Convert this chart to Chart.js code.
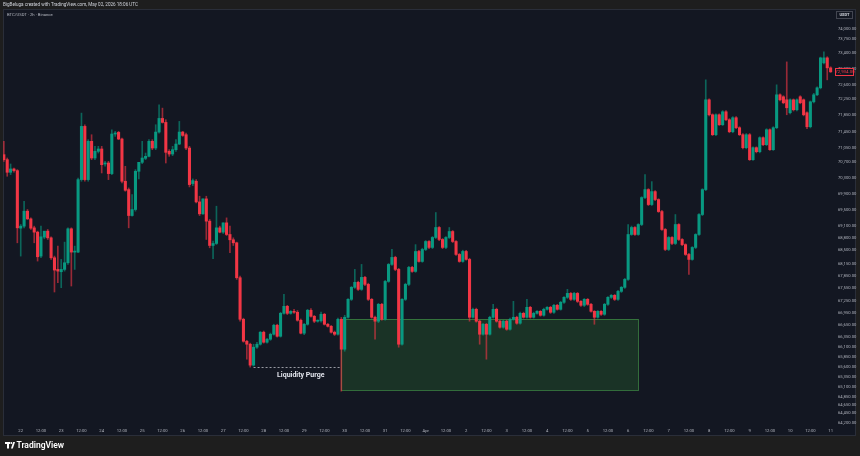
<!DOCTYPE html>
<html>
<head>
<meta charset="utf-8">
<style>
  html, body { margin: 0; padding: 0; background: #1e1e1e; }
  canvas { display: block; }
</style>
<script src="https://cdn.jsdelivr.net/npm/chart.js@4.4.1/dist/chart.umd.min.js"></script>
</head>
<body>
<canvas id="chart" width="860" height="456"></canvas>
<script>
// BTC/USDT 2h candles, Mar 21 14:00 -> Apr 11 00:00 (index = candle number)
const opens = [
  70875,70751,70437,70520,70478,69048,69098,69470,69279,69056,68949,68354,68825,68974,68808,68312,68023,67965,68023,68188,
  69032,68453,68453,70255,71578,70255,71206,70792,70958,71016,70644,70668,70404,71388,71429,71264,70214,70007,69362,69511,
  70462,70685,70784,70834,71206,71040,71437,71776,71677,70958,70891,70999,71139,71437,71371,71040,70156,70214,69701,69404,
  69776,69222,68618,68668,69056,68949,69180,68891,68759,68684,67816,66783,66237,66163,65643,66089,66163,66461,66213,66287,
  66411,66635,66361,66931,67105,66931,66981,66957,66759,66437,66659,67007,66857,66735,66745,66907,66659,66609,66461,66411,
  66783,66039,66833,67279,67577,67701,67527,67825,67651,67279,66833,66735,67155,66783,67725,68147,68321,68023,66163,67279,
  67651,68073,67973,68469,68221,68519,68717,68569,68817,69065,68767,68569,68817,68965,68717,68395,68221,68469,68271,66833,
  67031,66735,66411,66659,66411,66833,67031,66735,66585,66735,66535,66783,66833,66685,66931,66833,67081,66833,66931,66981,
  66883,67031,67081,66957,67131,67031,67205,67329,67427,67279,67427,67229,67131,67279,67155,66981,66833,66981,66907,67155,
  67329,67378,67279,67477,67577,67775,68891,69065,68891,69139,69809,70007,69635,69957,69759,69461,69015,68519,68817,68668,
  69139,68767,68639,68395,68271,68569,68891,69387,70007,72239,71867,71371,71867,71619,71941,71743,71445,71793,71545,71371,
  71049,71371,70751,71049,70949,71297,71123,71495,70999,71545,72363,72314,72239,71917,72239,71991,72314,72239,71917,71569,
  72189,72363,72537,73157,73281,73033
];
const highs = [
  71206,70792,70644,70544,70503,69139,69718,69511,69304,69098,68974,69098,68880,69015,68833,68354,68602,68271,68701,69056,
  69056,68602,70296,71908,71619,71247,71371,71082,71082,71082,70710,70710,71495,71454,71454,71288,70586,70048,69883,70503,
  70685,71206,70916,71247,71247,71619,72115,72032,71743,70999,71082,71247,71702,71454,71412,71082,70272,70255,69842,69776,
  69842,69263,68726,69594,69098,69180,69304,69098,68808,68701,67858,66810,66260,66190,66163,66210,66480,66490,66310,66440,
  66660,66660,66957,67403,67130,67000,67030,67000,66790,66680,67031,67050,66880,66770,66960,66930,66680,66630,66490,66810,
  66830,66883,67300,67600,68023,67730,68147,67850,67680,67300,66860,67180,67180,67750,68170,68519,68350,68050,67300,67680,
  68100,68100,68639,68500,68550,68740,68740,68840,69437,69090,68790,68840,69065,68990,68740,68420,68500,68500,68300,67060,
  67060,66760,66680,66680,66860,67155,67060,66760,66760,66760,66810,67229,66860,66960,66960,67279,67105,66960,67000,67000,
  67060,67100,67105,67155,67155,67230,67350,67527,67450,67450,67450,67250,67300,67300,67180,67000,67000,67000,67180,67350,
  67400,67400,67500,67600,67800,69139,69100,69090,69160,69830,70379,70030,70205,69980,69780,69490,69040,68840,68840,69387,
  69160,68790,68660,68420,68590,68910,69410,70030,72735,72260,71890,71890,71890,71970,71970,71770,71820,71820,71570,71400,
  71400,71400,71070,71070,71320,71320,71520,71520,71570,72611,72390,72340,73181,72260,72260,72260,72340,72260,71940,72210,
  72400,72560,73300,73429,73310,73060
];
const lows = [
  70710,70338,70379,70437,68684,68354,69056,69263,69015,68684,68230,68312,68783,68767,68271,67461,67692,67568,67981,68147,
  67610,68023,68436,70214,70214,70214,70751,70751,70916,70420,70586,70255,70379,71330,71247,70172,69966,69056,69346,69470,
  70272,70652,70751,70817,70999,70999,71412,71660,70668,70834,70850,70958,71123,71330,70999,70073,70106,69676,69362,69387,
  68767,68560,68288,68643,68932,68916,68866,68436,68618,67775,66735,66213,65791,65593,65620,66060,66140,66190,66190,66260,
  66390,66340,66340,66910,66900,66910,66930,66735,66420,66400,66635,66833,66700,66710,66710,66640,66590,66440,66380,66387,
  64997,65989,66810,67250,67550,67500,67500,67620,67250,66810,66287,66700,66760,66760,67700,68120,67990,66089,66140,67250,
  67620,67950,67950,68200,68200,68490,68540,68540,68790,68740,68540,68540,68790,68690,68370,68200,68200,68250,66735,66810,
  66710,66163,66390,65791,66390,66810,66710,66560,66560,66510,66510,66760,66660,66660,66810,66810,66810,66810,66910,66860,
  66860,67010,66930,66930,67010,67010,67180,67300,67250,67250,67200,67100,67100,67130,66960,66659,66810,66880,66880,67130,
  67300,67250,67250,67450,67550,67750,68870,68870,68870,69110,69780,69610,69610,69730,69440,68990,68490,68490,68640,68640,
  68740,68610,68370,67899,68250,68540,68870,69360,69980,71840,71350,71350,71600,71600,71720,71420,71420,71520,71350,71020,
  71020,70730,70730,70920,70920,71100,71100,70980,70980,71520,72210,72140,71867,71890,71960,71960,72140,71840,71520,71540,
  72160,72340,72510,73130,72735,72920
];
const closes = [
  70751,70437,70520,70478,69056,69098,69470,69279,69048,68949,68337,68833,68974,68808,68312,68006,67981,68023,68188,69032,
  68453,68478,70255,71578,70255,71206,70792,70958,71016,70627,70668,70404,71388,71412,71264,70214,69990,69362,69511,70462,
  70685,70792,70834,71206,71040,71437,71776,71677,70933,70891,70999,71139,71437,71354,71040,70131,70230,69701,69404,69776,
  69222,68618,68668,69056,68949,69180,68891,68759,68684,67816,66783,66237,66163,65643,66089,66163,66461,66213,66287,66411,
  66635,66361,66931,67105,66931,66981,66957,66759,66437,66659,67007,66857,66735,66745,66907,66659,66609,66461,66411,66783,
  66039,66833,67279,67577,67701,67527,67825,67651,67279,66833,66735,67155,66783,67725,68147,68321,68023,66163,67279,67651,
  68073,67973,68469,68221,68519,68717,68569,68817,69065,68767,68569,68817,68965,68717,68395,68221,68469,68271,66833,67031,
  66735,66411,66659,66411,66833,67031,66735,66585,66735,66535,66783,66833,66685,66931,66833,67081,66833,66931,66981,66883,
  67031,67081,66957,67131,67031,67205,67329,67427,67279,67427,67229,67131,67279,67155,66981,66833,66981,66907,67155,67329,
  67378,67279,67477,67577,67775,68891,69065,68891,69139,69809,70007,69635,69957,69759,69461,69015,68519,68817,68668,69139,
  68767,68639,68395,68271,68569,68891,69387,70007,72239,71867,71371,71867,71619,71941,71743,71445,71793,71545,71371,71049,
  71371,70751,71049,70949,71297,71123,71495,70999,71545,72363,72239,72165,72041,72239,71991,72239,72165,71867,71569,72189,
  72363,72537,73281,73281,73033,72934
];

// time axis: day labels at 00:00, "12:00" between them
const dayLabels = ['22','23','24','25','26','27','28','29','30','31','Apr','2','3','4','5','6','7','8','9','10','11'];
const firstDayIndex = 5;      // candle index of Mar 22 00:00
const candlesPerDay = 12;     // 2h candles

// price axis labels
const priceTicks = [
  74000,73750,73400,73000,72600,72250,71850,71450,71050,70700,70300,69900,69500,69100,
  68800,68500,68150,67850,67550,67250,66950,66650,66350,66100,65850,65600,65350,65100,
  64850,64650,64450,64200
];

// annotations
const zoneStart = 100, zoneEnd = 188;
const zoneTop = 66783, zoneBottom = 65020;
const purgeLevel = 65593, purgeFrom = 74, purgeTo = 100;
const purgeText = 'Liquidity Purge';

const UP = '#089981', DOWN = '#f23645';
const PANEL = '#131722';

const timeTicks = [];
const timeLabel = {};
dayLabels.forEach((lbl, d) => {
  const v = firstDayIndex + d * candlesPerDay;
  timeTicks.push(v); timeLabel[v] = lbl;
  if (d < dayLabels.length - 1) {
    const h = v + candlesPerDay / 2;
    timeTicks.push(h); timeLabel[h] = '12:00';
  }
});

const isUp = i => closes[i] >= opens[i];
const wickData = opens.map((o, i) => ({ x: i, y: [lows[i], highs[i]] }));
const bodyData = opens.map((o, i) => ({ x: i, y: [o, closes[i]] }));
const fmt = v => v.toLocaleString('en-US', { minimumFractionDigits: 2, maximumFractionDigits: 2 });

const tvFrame = {
  id: 'tvFrame',
  beforeDraw(chart) {
    const c = chart.ctx;
    c.save();
    c.fillStyle = '#1e1e1e';
    c.fillRect(0, 0, chart.width, chart.height);
    c.fillStyle = PANEL;
    c.fillRect(3, 9, 853, 427);
    c.strokeStyle = '#2a2e39';
    c.lineWidth = 1;
    c.strokeRect(3.5, 9.5, 852, 426);
    c.fillStyle = '#d1d4dc';
    c.font = '4.6px Roboto';
    c.textBaseline = 'middle';
    c.fillText('BigBeluga created with TradingView.com, May 02, 2026 18:06 UTC', 3, 4.8);
    c.restore();
  },
  beforeDatasetsDraw(chart) {
    const c = chart.ctx, xs = chart.scales.x, ys = chart.scales.y;
    c.save();
    // green zone
    const x0 = xs.getPixelForValue(zoneStart), x1 = xs.getPixelForValue(zoneEnd);
    const y0 = ys.getPixelForValue(zoneTop), y1 = ys.getPixelForValue(zoneBottom);
    c.fillStyle = 'rgba(46,125,50,0.28)';
    c.fillRect(x0, y0, x1 - x0, y1 - y0);
    c.strokeStyle = 'rgba(76,175,80,0.55)';
    c.lineWidth = 1;
    c.strokeRect(Math.round(x0) + 0.5, Math.round(y0) + 0.5, Math.round(x1 - x0), Math.round(y1 - y0));
    // dashed purge level
    const py = Math.round(ys.getPixelForValue(purgeLevel)) + 0.5;
    const px0 = xs.getPixelForValue(purgeFrom), px1 = xs.getPixelForValue(purgeTo);
    c.setLineDash([2, 2]);
    c.strokeStyle = 'rgba(209,212,220,0.7)';
    c.beginPath(); c.moveTo(px0, py); c.lineTo(px1, py); c.stroke();
    c.setLineDash([]);
    c.restore();
  },
  afterDraw(chart) {
    const c = chart.ctx, xs = chart.scales.x, ys = chart.scales.y;
    c.save();
    // purge label
    const py = ys.getPixelForValue(purgeLevel);
    c.fillStyle = '#e0e3eb';
    c.font = 'bold 7px Roboto';
    c.textAlign = 'center';
    c.textBaseline = 'middle';
    c.fillText(purgeText, xs.getPixelForValue((purgeFrom + purgeTo) / 2 + 1), py + 8.5);
    // symbol line
    c.textAlign = 'left';
    c.fillStyle = '#b2b5be';
    c.font = '4.2px Roboto';
    c.fillText('BTC/USDT \u00b7 2h \u00b7 Binance', 7, 15);
    // currency box
    c.fillStyle = PANEL;
    c.fillRect(836, 11, 17, 8);
    c.strokeStyle = '#434651';
    c.strokeRect(836.5, 11.5, 16, 7);
    c.fillStyle = '#d1d4dc';
    c.font = 'bold 4px Roboto';
    c.textAlign = 'center';
    c.fillText('USDT', 844.5, 15.2);
    // last price label
    const last = closes[closes.length - 1];
    const ly = ys.getPixelForValue(last);
    c.fillStyle = PANEL;
    c.fillRect(835, ly - 3.5, 19, 7);
    c.strokeStyle = DOWN;
    c.strokeRect(835.5, Math.round(ly - 3.5) + 0.5, 18, 7);
    c.fillStyle = DOWN;
    c.font = '4.4px Roboto';
    c.fillText(fmt(last), 845, ly + 0.5);
    // TradingView mark
    c.fillStyle = '#ffffff';
    c.fillRect(5, 442, 5, 2);
    c.fillRect(7, 442, 2, 6.5);
    c.beginPath(); c.arc(11.3, 443, 1, 0, Math.PI * 2); c.fill();
    c.beginPath(); c.moveTo(11, 448.5); c.lineTo(13.2, 442); c.lineTo(15, 442); c.lineTo(12.8, 448.5); c.closePath(); c.fill();
    c.textAlign = 'left';
    c.font = '600 8.5px Roboto';
    c.fillText('TradingView', 16.5, 445.5);
    c.restore();
  }
};

new Chart(document.getElementById('chart'), {
  type: 'bar',
  data: {
    datasets: [
      {
        label: 'wick',
        data: wickData,
        backgroundColor: opens.map((o, i) => isUp(i) ? 'rgba(8,153,129,0.6)' : 'rgba(242,54,69,0.6)'),
        barThickness: 1,
        grouped: false,
        order: 2
      },
      {
        label: 'body',
        data: bodyData,
        backgroundColor: opens.map((o, i) => isUp(i) ? UP : DOWN),
        barThickness: 2.4,
        minBarLength: 1,
        grouped: false,
        order: 1
      }
    ]
  },
  options: {
    responsive: false,
    animation: false,
    devicePixelRatio: 1,
    layout: { padding: { left: 3, top: 9, right: 0, bottom: 0 } },
    plugins: { legend: { display: false }, tooltip: { enabled: false } },
    scales: {
      x: {
        type: 'linear',
        min: -0.25,
        max: 246,
        offset: false,
        grid: { display: false, drawTicks: false },
        border: { display: false },
        afterBuildTicks: s => { s.ticks = timeTicks.map(v => ({ value: v })); },
        afterFit: s => { s.height = 32; },
        ticks: {
          autoSkip: false,
          maxRotation: 0,
          padding: 4,
          color: '#b2b5be',
          font: { size: 4.2, family: 'Roboto' },
          callback: v => timeLabel[v] ?? ''
        }
      },
      y: {
        type: 'linear',
        position: 'right',
        min: 64180,
        max: 74496,
        grid: { display: false, drawTicks: false },
        border: { display: false },
        afterBuildTicks: s => { s.ticks = priceTicks.map(v => ({ value: v })); },
        afterFit: s => { s.width = 26; },
        ticks: {
          padding: 4,
          color: '#b2b5be',
          font: { size: 4.2, family: 'Roboto' },
          callback: v => fmt(v)
        }
      }
    }
  },
  plugins: [tvFrame]
});
</script>
</body>
</html>
